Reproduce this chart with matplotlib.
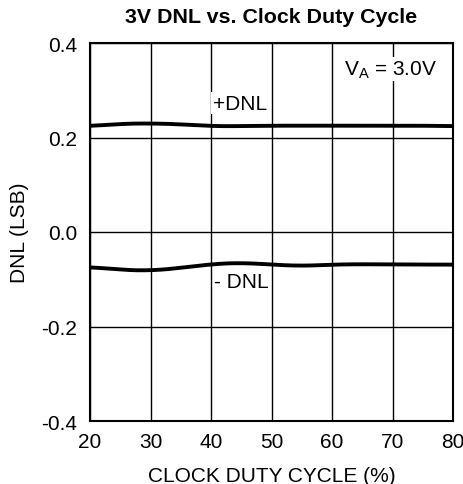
import matplotlib
matplotlib.use("Agg")
import matplotlib.pyplot as plt
import numpy as np

plt.rcParams['font.family'] = ['Liberation Sans', 'DejaVu Sans']

duty = [20, 25, 30, 35, 40, 45, 50, 55, 60, 65, 70, 75, 80]
pos_dnl = [0.224, 0.229, 0.230, 0.228, 0.224, 0.224, 0.225, 0.225, 0.225, 0.225, 0.225, 0.225, 0.224]
neg_dnl = [-0.074, -0.080, -0.082, -0.076, -0.068, -0.065, -0.069, -0.072, -0.069, -0.068, -0.069, -0.069, -0.069]
xticks = [20, 30, 40, 50, 60, 70, 80]
yticks = [-0.4, -0.2, 0.0, 0.2, 0.4]

fig = plt.figure(figsize=(4.63, 4.85), dpi=100)
ax = fig.add_axes([90/463, 1-422/485, (453-90)/463, (422-44)/485])

xs = np.linspace(20, 80, 300)
def smooth(x, y):
    yi = np.interp(xs, x, y)
    k = 15
    pad = np.pad(yi, k, mode='edge')
    return np.convolve(pad, np.ones(2*k+1)/(2*k+1), mode='valid')

ax.plot(xs, smooth(duty, pos_dnl), color='black', lw=2.8, zorder=3)
ax.plot(xs, smooth(duty, neg_dnl), color='black', lw=2.8, zorder=3)

FS = 15
ax.set_xlim(20, 80)
ax.set_ylim(-0.4, 0.4)
ax.set_xticks(xticks)
ax.set_yticks(yticks)
ax.set_xticklabels([str(v) for v in xticks])
ax.set_yticklabels([f"{v:.1f}" for v in yticks])
ax.grid(True, color='black', lw=1.0)
ax.tick_params(length=0, labelsize=FS)
ax.tick_params(axis='x', pad=8)
ax.tick_params(axis='y', pad=9)
for s in ax.spines.values():
    s.set_linewidth(1.5)
ax.set_axisbelow(True)

ax.set_xlabel('CLOCK DUTY CYCLE (%)', fontsize=FS, labelpad=11)
ax.set_ylabel('DNL (LSB)', fontsize=FS, labelpad=9)
ax.set_title('3V DNL vs. Clock Duty Cycle', fontsize=15.4, fontweight='bold', pad=15)

bbox = dict(facecolor='white', edgecolor='none', pad=1)
ax.text(40.3, 0.273, '+DNL', fontsize=FS, ha='left', va='center', bbox=bbox, zorder=4)
ax.text(40.5, -0.104, '- DNL', fontsize=FS, ha='left', va='center', bbox=bbox, zorder=4)
ax.text(77.3, 0.345, r'V$_\mathregular{A}$ = 3.0V', fontsize=FS, ha='right', va='center', bbox=bbox, zorder=4)

fig.savefig('out.png', dpi=100)
